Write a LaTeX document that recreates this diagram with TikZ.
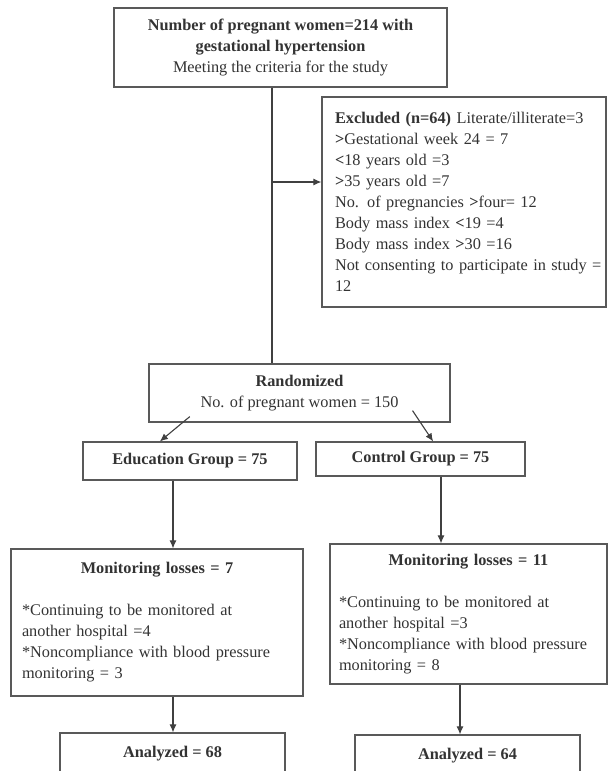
\documentclass[tikz,border=0pt]{standalone}
\usepackage{fontspec}
\setmainfont{Liberation Serif}
\usetikzlibrary{arrows.meta}
\usetikzlibrary{calc}

\tikzset{
  box/.style={draw=black!65, line width=1.2pt, inner sep=0pt, text=black!80,
    font=\fontsize{16.3}{21}\selectfont},
  link/.style={draw=black!75, line width=1.1pt, -{Latex[length=8pt,width=7pt]}},
}

\begin{document}
\begin{tikzpicture}[x=1pt, y=-1pt]
    \useasboundingbox[fill=white] (0, 0) rectangle (610, 771);

    \node[box, minimum width=333, minimum height=79, align=center] (total) at (280.5, 47.5)
        {\textbf{Number of pregnant women=214 with}\\ \textbf{gestational hypertension}\\ Meeting the criteria for the study};

    \node[box, minimum width=284, minimum height=210, text width=258pt, align=left] (excl) at (464, 202)
        {\makebox[\linewidth][l]{\textbf{Excluded (n=64)} Literate/illiterate=3}\\
         \textbf{>}Gestational week 24 = 7\\
         \textbf{<}18 years old =3\\
         \textbf{>}35 years old =7\\
         No. of pregnancies \textbf{>}four= 12\\
         Body mass index \textbf{<}19 =4\\
         Body mass index \textbf{>}30 =16\\
         \makebox[\linewidth][l]{Not consenting to participate in study =}\\
         12};

    \node[box, minimum width=301, minimum height=58, align=center] (rand) at (299.5, 393)
        {\textbf{Randomized}\\ No. of pregnant women = 150};

    \node[box, minimum width=214, minimum height=38] (edu) at (190, 461) {\textbf{Education Group = 75}};
    \node[box, minimum width=209, minimum height=34] (ctrl) at (420.5, 459) {\textbf{Control Group = 75}};

    \node[box, minimum width=292, minimum height=147, text width=270pt, align=left] (lossL) at (157, 622.5)
        {\makebox[\linewidth]{\textbf{Monitoring losses = 7}}\\[21pt]
         {*}Continuing to be monitored at\\
         another hospital =4\\
         {*}Noncompliance with blood pressure\\
         monitoring = 3};

    \node[box, minimum width=277, minimum height=140, text width=259pt, align=left] (lossR) at (468.5, 614)
        {\makebox[\linewidth]{\textbf{Monitoring losses = 11}}\\[21pt]
         {*}Continuing to be monitored at\\
         another hospital =3\\
         \makebox[\linewidth][s]{*Noncompliance with blood pressure}\\
         monitoring = 8};

    \node[box, minimum width=225, minimum height=42] (anaL) at (172.5, 754) {\textbf{Analyzed = 68}};
    \node[box, minimum width=225, minimum height=42] (anaR) at (467.5, 756) {\textbf{Analyzed = 64}};

    % trunk and exclusion branch
    \coordinate (split) at (272, 182);
    \draw[draw=black!75, line width=1.1pt] (total.south -| split) -- (rand.north -| split);
    \draw[link] (split) -- (split -| excl.west);

    % the two arms
    \draw[link] ($(rand.south west)!0.137!(rand.south east) + (0, -6)$) -- ($(edu.north west)!0.36!(edu.north east)$);
    \draw[link] ($(rand.south west)!0.874!(rand.south east) + (0, -12)$) -- ($(ctrl.north west)!0.56!(ctrl.north east)$);

    \coordinate (colL) at (173, 0);
    \coordinate (colC) at (441, 0);
    \coordinate (colR) at (460, 0);
    \draw[link] (edu.south -| colL) -- (lossL.north -| colL);
    \draw[link] (ctrl.south -| colC) -- (lossR.north -| colC);
    \draw[link] (lossL.south -| colL) -- (anaL.north -| colL);
    \draw[link] (lossR.south -| colR) -- (anaR.north -| colR);
  \end{tikzpicture}
\end{document}
